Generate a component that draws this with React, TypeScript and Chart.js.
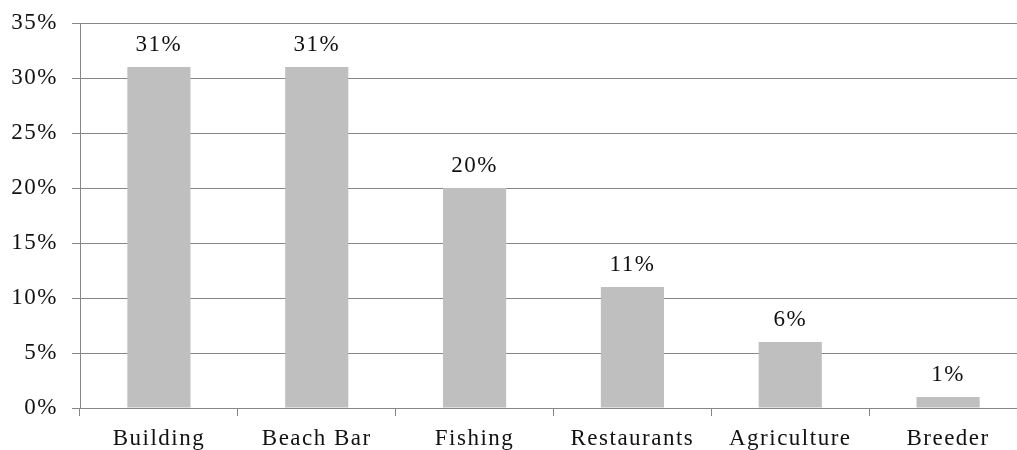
import React, { useEffect, useRef } from "react";
import { Chart, registerables } from "chart.js";

Chart.register(...registerables);

const categories = ["Building", "Beach Bar", "Fishing", "Restaurants", "Agriculture", "Breeder"];
const shares = [31, 31, 20, 11, 6, 1];
const yTicks = [0, 5, 10, 15, 20, 25, 30, 35];

const FONT = "'Liberation Serif', 'Times New Roman', serif";
const SPACING = "1.5px";

const spacingPlugin = {
  id: "spacing",
  beforeLayout(chart: any) {
    (chart.ctx as any).letterSpacing = SPACING;
  },
  beforeDraw(chart: any) {
    (chart.ctx as any).letterSpacing = SPACING;
  },
};

const labelPlugin = {
  id: "barLabels",
  afterDatasetsDraw(chart: any) {
    const ctx = chart.ctx;
    const meta = chart.getDatasetMeta(0);
    ctx.save();
    (ctx as any).letterSpacing = SPACING;
    ctx.font = `23px ${FONT}`;
    ctx.fillStyle = "#111";
    ctx.textAlign = "center";
    ctx.textBaseline = "alphabetic";
    meta.data.forEach((bar: any, i: number) => {
      ctx.fillText(`${shares[i]}%`, bar.x, bar.y - 16);
    });
    ctx.restore();
  },
};

export default function App() {
  const ref = useRef<HTMLCanvasElement>(null);
  useEffect(() => {
    document.body.style.margin = "0";
    const chart = new Chart(ref.current!, {
      type: "bar",
      data: {
        labels: categories,
        datasets: [
          {
            data: shares,
            backgroundColor: "#BFBFBF",
            borderWidth: 0,
            categoryPercentage: 1,
            barPercentage: 0.4,
          },
        ],
      },
      options: {
        responsive: false,
        animation: false,
        layout: { padding: 0 },
        plugins: { legend: { display: false }, tooltip: { enabled: false } },
        scales: {
          x: {
            afterFit(scale: any) {
              scale.height = 52;
            },
            grid: {
              drawOnChartArea: false,
              drawTicks: true,
              tickLength: 8,
              color: "#868686",
              offset: true,
            },
            border: { color: "#868686", width: 1 },
            ticks: {
              color: "#111",
              font: { family: FONT, size: 23 },
              padding: 9,
              maxRotation: 0,
              autoSkip: false,
            },
          },
          y: {
            min: 0,
            max: 35,
            afterFit(scale: any) {
              scale.width = 80;
              scale.paddingTop = 23;
              scale.paddingBottom = 0;
            },
            afterBuildTicks(scale: any) {
              scale.ticks = yTicks.map((v) => ({ value: v }));
            },
            grid: { color: "#868686", tickLength: 8, drawTicks: true },
            border: { color: "#868686", width: 1 },
            ticks: {
              color: "#111",
              font: { family: FONT, size: 23 },
              padding: 14,
              callback: (v: any) => `${v}%`,
            },
          },
        },
      },
      plugins: [spacingPlugin, labelPlugin],
    });
    return () => chart.destroy();
  }, []);
  return (
    <div style={{ position: "absolute", left: 0, top: 0, width: 1017, height: 450, overflow: "hidden", background: "#fff" }}>
      <canvas ref={ref} width={1027} height={460} style={{ display: "block" }} />
    </div>
  );
}
